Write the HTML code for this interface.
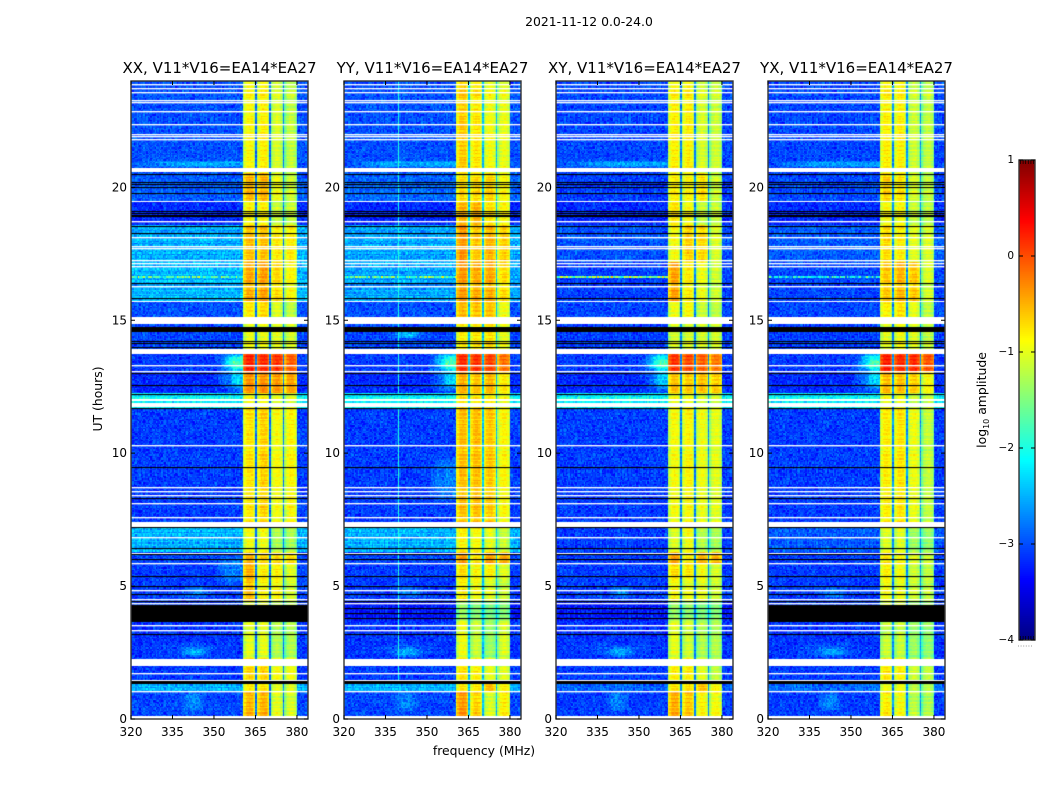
<!DOCTYPE html>
<html lang="en">
<head>
<meta charset="utf-8">
<title>2021-11-12 amplitude spectrogram</title>
<style>
html,body{margin:0;padding:0;background:#fff;width:1050px;height:800px;overflow:hidden}
#figure{position:relative;width:1050px;height:800px;background:#fff}
canvas{position:absolute;display:block}
svg{position:absolute;left:0;top:0}
text{font-family:"DejaVu Sans","Liberation Sans",sans-serif;fill:#000}
</style>
</head>
<body>
<div id="figure">
<svg id="overlay" width="1050" height="800" viewBox="0 0 1050 800">
<text x="589" y="26" text-anchor="middle" font-size="12.4">2021-11-12 0.0-24.0</text>
<text x="484" y="755" text-anchor="middle" font-size="12.4">frequency (MHz)</text>
<text transform="translate(102,399) rotate(-90)" text-anchor="middle" font-size="12.4">UT (hours)</text>
<text transform="translate(986,400) rotate(-90)" text-anchor="middle" font-size="12.4">log<tspan font-size="8" dy="3">10</tspan><tspan dy="-3"> amplitude</tspan></text>
</svg>
</div>
<script>
// ---- axis values and tick labels ----
const panelNames = ["XX", "YY", "XY", "YX"];
const baselineLabel = "V11*V16=EA14*EA27";
const freqTicks = [320, 335, 350, 365, 380];
const utTicks = [0, 5, 10, 15, 20];
const colorbarTicks = [1, 0, -1, -2, -3, -4];

// ---- UT segment boundaries (hours) ----
const segmentStart = [0, 1.05, 1.4, 2.27, 3.66, 4.4, 5.3, 5.85, 6.3, 7.4, 11.7, 12.25, 13.1, 13.75, 14.9, 15.7, 17.2, 18.6, 19.45, 20.55];

// ---- background log10 amplitude per segment, one array per polarisation ----
const backgroundXX = [-3.05,-2.55,-3.1,-3.15,-3.1,-3.1,-3.1,-3.05,-2.5,-3.1,-2.2,-3.2,-3.1,-3.05,-3,-2.5,-2.55,-3.2,-2.95,-3];
const backgroundYY = [-3.05,-2.55,-3.1,-3.15,-3.3,-3.1,-3.1,-3.05,-2.5,-3.1,-2.2,-3.2,-3.1,-3.05,-3,-2.6,-2.6,-3.2,-2.9,-3];
const backgroundXY = [-3.1,-2.9,-3.1,-3.15,-3.3,-3.1,-3.1,-3.1,-3.1,-3.1,-2.2,-3.2,-3.1,-3.1,-3.05,-3.1,-3,-3.2,-3.1,-3.05];
const backgroundYX = [-3.1,-2.9,-3.1,-3.15,-3.1,-3.1,-3.1,-3.1,-2.95,-3.1,-2.2,-3.2,-3.1,-3.1,-3.05,-3.05,-2.95,-3.2,-3.05,-3.05];
const panelBackground = [backgroundXX, backgroundYY, backgroundXY, backgroundYX];

// ---- log10 amplitude of each of the four spectral windows, per segment ----
const windowsXX = [[-.55,-.55,-1.05,-1.1],[-.85,-.8,-1.1,-1.1],[-.7,-.7,-.95,-.95],[-1.05,-1.05,-1.3,-1.3],[-1.1,-1.1,-1.3,-1.3],[-.6,-.9,-.9,-1.1],[-.5,-.85,-.85,-1.05],[-.55,-.7,-.75,-.75],[-.95,-.95,-1.3,-1.3],[-.8,-.7,-.95,-.9],[-.95,-.95,-1.1,-1.1],[-.35,-.35,-.4,-.45],[.2,.15,.1,-.1],[-1,-1,-1.05,-1.1],[-.8,-.7,-1.05,-1.2],[-.5,-.45,-.75,-.9],[-.6,-.6,-.85,-.85],[-.9,-.9,-1.2,-1.2],[-.55,-.55,-1,-1.15],[-.9,-.85,-1.1,-1.2]];
const windowsYY = [[-.4,-.7,-1.1,-.85],[-.85,-.85,-.6,-.9],[-.75,-.85,-1,-1.05],[-1,-1.2,-1.4,-1.1],[-1.4,-1.5,-1.55,-1.5],[-.85,-.95,-1.05,-1.15],[-.75,-.9,-.85,-1.05],[-.4,-.8,-.45,-.5],[-.85,-.9,-1,-1.15],[-.6,-.6,-.65,-.9],[-.8,-.85,-.85,-1],[-.5,-.6,-.55,-.8],[.15,.1,.05,-.2],[-.85,-.8,-.75,-1],[-.55,-.6,-.6,-.95],[-.4,-.5,-.5,-.75],[-.4,-.65,-.55,-.7],[-.55,-.55,-.8,-.9],[-.75,-.75,-.7,-.9],[-.65,-.8,-.95,-1]];
const windowsXY = [[-.5,-.65,-.9,-.95],[-.8,-.8,-.65,-.9],[-.85,-.85,-1.05,-1.2],[-1.05,-1.15,-1.3,-1.3],[-1.4,-1.45,-1.55,-1.5],[-.9,-1,-1,-1.15],[-.75,-.8,-.95,-1.1],[-.45,-.85,-.55,-.55],[-1.05,-.95,-1.25,-1.3],[-.95,-.9,-1,-1.05],[-1,-1,-1.15,-1.15],[-.6,-.65,-.6,-.65],[.1,0,-.1,-.25],[-1.1,-1.1,-1.1,-1.1],[-.95,-.9,-1.15,-1.2],[-.45,-.85,-1,-1.15],[-.95,-.7,-.75,-1.1],[-.8,-.95,-1.2,-1.2],[-.85,-.9,-.8,-1.15],[-.85,-.85,-1.1,-1.15]];
const windowsYX = [[-.85,-.95,-1.25,-1.3],[-1,-1,-1.25,-1.3],[-.8,-.85,-1.15,-1.2],[-1.2,-1.2,-1.4,-1.45],[-1.15,-1.15,-1.4,-1.45],[-.95,-1,-1.15,-1.2],[-.85,-.95,-1.15,-1.2],[-.8,-.9,-1.05,-1.15],[-1.05,-1.05,-1.35,-1.4],[-.85,-.8,-1,-1.2],[-1,-1,-1.2,-1.2],[-.55,-.6,-.65,-.9],[.2,.15,.15,-.05],[-1.05,-.95,-1.05,-1.2],[-.85,-.75,-1,-1.2],[-.65,-.55,-.65,-1.1],[-.75,-.85,-1.05,-1.1],[-.95,-.95,-1.2,-1.25],[-.7,-.8,-1.1,-1.2],[-.85,-.85,-1.15,-1.2]];
const panelWindows = [windowsXX, windowsYY, windowsXY, windowsYX];

// ---- spectral windows: start frequency (MHz) and the relative shape across each window's channels ----
const windowStart = [360.5, 365.5, 370.5, 375.5];
const windowShape = [-.38, -.16, -.03, .03, .05, .05, .02, -.08, -.32];
const gapLevel = [-2.85, -2.45, -2.75, -2.7];

// ---- extra emission patches: UT start, UT end, freq start, freq end, log10 boost, panels ----
const patchUTStart = [12.2, 12.2, 13.1, .2, 2.3, 2.25, 4.5, 5, 8, 14.3, 20.7];
const patchUTEnd = [13.8, 13.8, 13.8, 1.05, 2.7, 2.9, 5, 6.2, 10, 14.55, 21];
const patchFreqStart = [350, 355, 352, 337, 337, 325, 338, 350, 350, 337, 320];
const patchFreqEnd = [360.5, 360.5, 360.5, 347, 349, 358, 349, 360.5, 360.5, 349, 360.5];
const patchBoost = [.35, .5, .5, .35, .45, .15, .35, .3, .3, .7, .45];
const patchPanels = ["0123", "0123", "0123", "0123", "0123", "0123", "0123", "0", "1", "1", "0123"];

// ---- narrowband interference ----
const rfiRowUT = 16.6;
const rfiRowLevel = [-1.8, -1.8, -1.5, -2.2];
const rfiColumnFreq = 339.5;
const rfiColumnLevel = [null, -2, null, null];

// ---- flagged data: white = missing, black = zero amplitude (hours) ----
const whiteLines = [23.88,23.75,23.58,23.29,23.2,22.89,22.39,22.02,21.92,21.82,18.72,18.12,17.8,17.71,17.26,17.14,17.04,16.29,13.33,13.09,10.3,8.72,8.58,8.43,8.11,7.61,6.85,6.26,5.87,4.85,4.53,4.36,3.54,3.35,1.73,1.47,1.05];
const whiteBandStart = [0, 2, 7.23, 11.73, 11.95, 13.74, 14.86, 15.68, 19.44, 20.57];
const whiteBandEnd = [.11, 2.27, 7.42, 11.9, 12.03, 13.93, 15.11, 15.73, 19.49, 20.74];
const blackLines = [20.5,20.21,20.13,20,19.78,19.12,19.05,18.97,18.91,18.55,18.27,16.41,15.84,14.23,14.16,13.98,13.02,12.57,12.22,11.69,9.47,8.31,7.22,6.44,6.21,6.02,5.38,5,4.7,4.44,4.18,4.0,3.8,3.2];
const blackBandStart = [1.33, 14.57];
const blackBandEnd = [1.43, 14.74];
const solidFlagStart = 3.66;
const solidFlagEnd = 4.29;
const solidFlagPanels = "03";

// ---- fine-grain residuals estimated by eye from the speckle in the reference ----
const speckleA = [.12,-.18,.05,.22,-.09,-.24,.16,.02,-.13,.27,-.05,.09,-.2,.14,-.02,.19,-.26,.07,-.11,.24,-.16,.03,.11,-.07,.18,-.22,.01,.15,-.14,.08,-.03,.21,-.19,.04,-.08,.26,-.12,.1,-.25,.17,-.01,.06,-.17,.13,-.1,.23,-.06,.2,-.21,0,.25,-.15,.09];
const speckleB = [-.08,.14,-.16,.06,.11,-.03,.18,-.12,.02,-.19,.09,.16,-.05,-.14,.12,.04,-.1,.19,-.01,-.17,.07,.13,-.07,-.18,.15,.01,-.11,.1,.17,-.04,-.15,.05,.08,-.13,.2,-.09,-.02,.16,-.06,.03,-.2,.11,.14,-.12,.06,-.16,.18];
const rowStripe = [.04,-.1,.12,-.06,.2,-.14,.02,.1,-.18,.16,-.07,.04,.22,-.12,-.02,.12,-.2,.08,-.05,.17,-.15,0,.11,-.09,.19,-.03,-.16,.07,.13,-.11,.05];

// ---- layout ----
const axisLeft = [131, 344, 556, 768];
const axisWidth = 177;
const axisTop = 81;
const axisBottom = 719;
const freqMin = 320, freqMax = 384, utMin = 0, utMax = 24;
const channelWidth = 0.5, rowHeight = 0.05;
const colorMin = -4, colorMax = 1;
const cbarLeft = 1019, cbarRight = 1035, cbarTop = 160, cbarBottom = 640;

// ---- scales ----
function xScale(panel, f) { return axisLeft[panel] + (f - freqMin) / (freqMax - freqMin) * axisWidth; }
function yScale(u) { return axisBottom - (u - utMin) / (utMax - utMin) * (axisBottom - axisTop); }
function cbarScale(v) { return cbarBottom - (v - colorMin) / (colorMax - colorMin) * (cbarBottom - cbarTop); }
function jet(v) {
  const t = Math.max(0, Math.min(1, (v - colorMin) / (colorMax - colorMin)));
  const ch = (c) => Math.round(255 * Math.max(0, Math.min(1, 1.5 - Math.abs(4 * t - c))));
  return "rgb(" + ch(3) + "," + ch(2) + "," + ch(1) + ")";
}
function segmentIndex(u) {
  let s = 0;
  for (let i = 0; i < segmentStart.length; i++) if (u >= segmentStart[i]) s = i;
  return s;
}
function patchWeight(i, u, f) {
  const u0 = patchUTStart[i], u1 = patchUTEnd[i], f0 = patchFreqStart[i], f1 = patchFreqEnd[i];
  if (u < u0 || u >= u1 || f < f0 || f >= f1) return 0;
  const wu = Math.min(1, Math.min(u - u0, u1 - u) / (.25 * (u1 - u0)));
  const edge = f1 === 360.5 ? f - f0 : Math.min(f - f0, f1 - f);
  const wf = Math.min(1, edge / (.4 * (f1 - f0)));
  return wu * wf;
}
function cellValue(p, r, c, u, f) {
  const s = segmentIndex(u);
  const speck = speckleA[(r * r + c * 7 + p * 5) % speckleA.length] + speckleB[(c * c + r * 11 + p) % speckleB.length];
  const stripe = rowStripe[r % rowStripe.length];
  for (let w = 0; w < windowStart.length; w++) {
    const k = Math.round((f - windowStart[w]) / channelWidth);
    if (k >= 0 && k < windowShape.length) {
      return panelWindows[p][s][w] + windowShape[k] + stripe * .65 + speck * .3;
    }
  }
  if (f >= 360.5 && f < 380) return gapLevel[p] + speck * .6;
  const bg = panelBackground[p][s];
  let v = bg + stripe * (bg > -2.7 ? .7 : .15) + speck * .85;
  if (f < 360.5) {
    for (let i = 0; i < patchBoost.length; i++) {
      if (patchPanels[i].indexOf(String(p)) >= 0) v += patchBoost[i] * patchWeight(i, u, f);
    }
    if (Math.abs(u - rfiRowUT) < rowHeight * .5) v = rfiRowLevel[p] + speck * 2.2;
    if (rfiColumnLevel[p] !== null && f === rfiColumnFreq && u > 1.3) v = rfiColumnLevel[p] + speck * .5;
  }
  return v;
}

const figure = document.getElementById("figure");
const overlay = document.getElementById("overlay");
const NS = "http://www.w3.org/2000/svg";
function svgEl(tag, attrs) {
  const el = document.createElementNS(NS, tag);
  for (const k in attrs) el.setAttribute(k, attrs[k]);
  overlay.appendChild(el);
  return el;
}

// ---- heatmaps ----
panelNames.forEach(function (name, p) {
  const cv = document.createElement("canvas");
  
  
  cv.width = 1050; cv.height = 800;
  cv.style.left = "0px"; cv.style.top = "0px";
  figure.insertBefore(cv, overlay);
  const g = cv.getContext("2d");
  const nRows = Math.round((utMax - utMin) / rowHeight);
  const nChans = Math.round((freqMax - freqMin) / channelWidth);
  for (let r = 0; r < nRows; r++) {
    const u = r * rowHeight;
    const y1 = Math.round(yScale(u)), y0 = Math.round(yScale(u + rowHeight));
    for (let c = 0; c < nChans; c++) {
      const f = freqMin + c * channelWidth;
      const x0 = Math.round(xScale(p, f)), x1 = Math.round(xScale(p, f + channelWidth));
      g.fillStyle = jet(cellValue(p, r, c, u, f));
      g.fillRect(x0, y0, x1 - x0, y1 - y0);
    }
  }
  const x0 = xScale(p, freqMin), w = xScale(p, freqMax) - x0;
  function band(a, b, col) {
    const top = Math.round(yScale(b)), bot = Math.round(yScale(a));
    g.fillStyle = col;
    g.fillRect(x0, top, w, bot - top);
  }
  function line(u, col, h) {
    g.fillStyle = col;
    g.fillRect(x0, Math.round(yScale(u)), w, h);
  }
  whiteBandStart.forEach(function (a, i) { band(a, whiteBandEnd[i], "#fff"); });
  whiteLines.forEach(function (u) { line(u, "#fff", 1.35); });
  blackLines.forEach(function (u) { line(u, "#000", 1.1); });
  blackBandStart.forEach(function (a, i) { band(a, blackBandEnd[i], "#000"); });
  if (solidFlagPanels.indexOf(String(p)) >= 0) band(solidFlagStart, solidFlagEnd, "#000");
});

// ---- axes ----
panelNames.forEach(function (name, p) {
  const left = xScale(p, freqMin), right = xScale(p, freqMax);
  const title = svgEl("text", { x: left + axisWidth / 2, y: 73, "text-anchor": "middle", "font-size": 15 });
  
  
  title.textContent = name + ", " + baselineLabel;
  const frame = svgEl("rect", { x: left, y: axisTop, width: axisWidth, height: axisBottom - axisTop, fill: "none", stroke: "#333", "stroke-width": 1.4 });
  
  
  freqTicks.forEach(function (f) {
    const x = xScale(p, f);
    const t1 = svgEl("path", { d: "M" + x + " " + axisBottom + "v-4M" + x + " " + axisTop + "v4", stroke: "#000", "stroke-width": 1, fill: "none" });
    
    
    const lab = svgEl("text", { x: x, y: 736, "text-anchor": "middle", "font-size": 12 });
    
    
    lab.textContent = f;
  });
  utTicks.forEach(function (u) {
    const y = yScale(u);
    const t2 = svgEl("path", { d: "M" + left + " " + y + "h4M" + right + " " + y + "h-4", stroke: "#000", "stroke-width": 1, fill: "none" });
    
    
    const lab = svgEl("text", { x: left - 4, y: y + 4, "text-anchor": "end", "font-size": 12 });
    
    
    lab.textContent = u;
  });
});

// ---- colorbar ----
for (let i = 0; i < 240; i++) {
  const v = colorMin + (i + .5) / 240 * (colorMax - colorMin);
  const seg = svgEl("rect", { x: cbarLeft, y: cbarScale(v) - 1.2, width: cbarRight - cbarLeft, height: 2.4, fill: jet(v) });
  
  
}
const cbarFrame = svgEl("rect", { x: cbarLeft, y: cbarTop, width: cbarRight - cbarLeft, height: cbarBottom - cbarTop, fill: "none", stroke: "#333", "stroke-width": 1.4 });


colorbarTicks.forEach(function (v) {
  const y = cbarScale(v);
  const t = svgEl("path", { d: "M" + cbarLeft + " " + y + "h4M" + cbarRight + " " + y + "h-4", stroke: "#000", "stroke-width": 1, fill: "none" });
  
  
  const lab = svgEl("text", { x: cbarLeft - 5, y: y + 3, "text-anchor": "end", "font-size": 10.5 });
  
  
  lab.textContent = v < 0 ? "\u2212" + Math.abs(v) : String(v);
});
for (let i = 0; i < 6; i++) {
  const x = cbarLeft + 1.5 + i * 2.6;
  const c = svgEl("path", { d: "M" + x + " " + cbarTop + "v4M" + x + " " + cbarBottom + "v-4", stroke: "#000", "stroke-width": .7, fill: "none" });
  
  
  const d = svgEl("rect", { x: x - 2.5, y: 645.5, width: 1, height: 1, fill: "#999" });
  
  
}
</script>
</body>
</html>
